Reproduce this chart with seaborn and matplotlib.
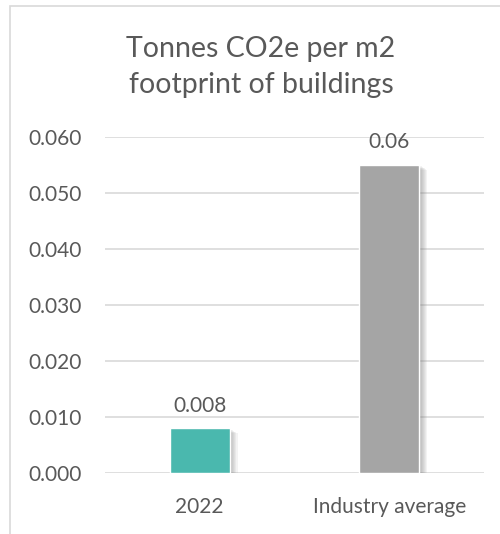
import matplotlib
matplotlib.use("Agg")
import matplotlib.pyplot as plt
import matplotlib.patheffects as pe
from matplotlib.patches import Rectangle
import seaborn as sns
import pandas as pd

categories = ["2022", "Industry average"]
values = [0.008, 0.055]
value_labels = ["0.008", "0.06"]
colors = ["#4AB8AE", "#A5A5A5"]
yticks = [0.0, 0.01, 0.02, 0.03, 0.04, 0.05, 0.06]
title = "Tonnes CO2e per m2\nfootprint of buildings"

sns.set_theme(style="white")
plt.rcParams["font.family"] = ["Lato", "DejaVu Sans"]
text_color = "#595959"

fig = plt.figure(figsize=(5.0, 5.34), dpi=100)
# outer chart frame (cropped at right and bottom)
fig.patches.append(Rectangle((10 / 500, -0.05), 1.2, 1 - 6 / 534 + 0.05,
                             transform=fig.transFigure, fill=False,
                             edgecolor="#D9D9D9", linewidth=1.2))

ax = fig.add_axes([105 / 500, 1 - 473 / 534, (484 - 105) / 500, (473 - 137) / 534])
df = pd.DataFrame({"cat": categories, "val": values})
sns.barplot(data=df, x="cat", y="val", hue="cat", palette=colors, width=0.317,
            legend=False, ax=ax, zorder=3, saturation=1)

shadow = []
for k in range(1, 8):
    shadow.append(pe.SimplePatchShadow(offset=(k * 0.8, -k * 0.5),
                                       shadow_rgbFace="#707070", alpha=0.08))
for p in ax.patches:
    p.set_path_effects(shadow + [pe.Normal()])

ax.set_ylim(0, 0.06)
ax.set_xlim(-0.5, 1.5)
ax.set_yticks(yticks)
ax.set_yticklabels([f"{t:.3f}" for t in yticks])
ax.yaxis.grid(True, color="#D9D9D9", linewidth=1.2, zorder=0)
ax.set_axisbelow(True)
for s in ax.spines.values():
    s.set_visible(False)
ax.tick_params(axis="both", length=0, labelsize=15, colors=text_color)
ax.tick_params(axis="y", pad=17)
ax.tick_params(axis="x", pad=17)
ax.set_xlabel("")
ax.set_ylabel("")

for i, (v, lab) in enumerate(zip(values, value_labels)):
    ax.annotate(lab, (i, v), xytext=(0, 9), textcoords="offset points",
                ha="center", va="bottom", fontsize=15, color=text_color,
                clip_on=False, zorder=5)

fig.text(261 / 500, 1 - 67 / 534, title, ha="center", va="center", fontsize=20.5,
         color=text_color, linespacing=1.5)

fig.savefig("out.png", dpi=100, facecolor="white")
